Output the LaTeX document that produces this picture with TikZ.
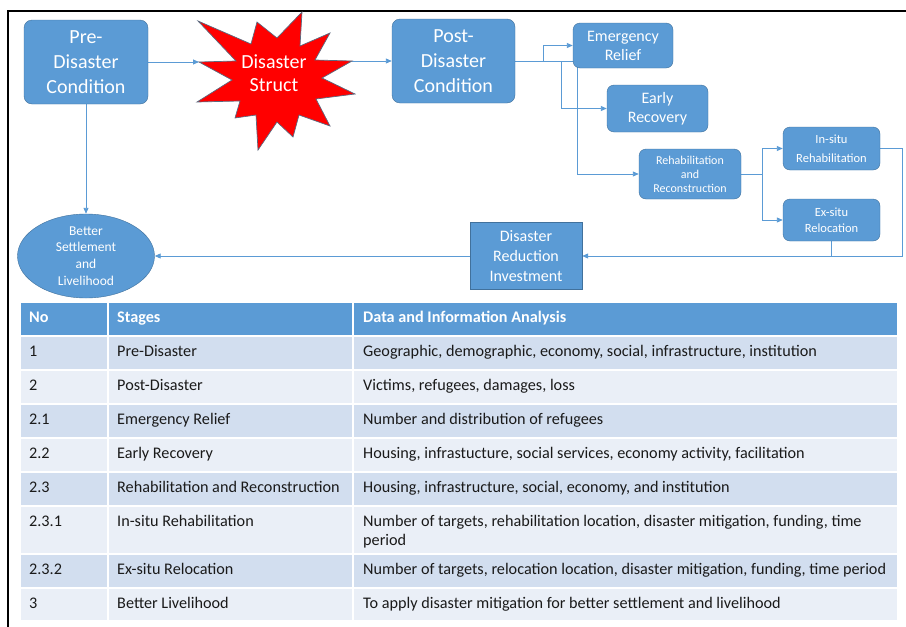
\documentclass[tikz,border=0pt]{standalone}
\usepackage{fontspec}
\setmainfont{Carlito}
\usetikzlibrary{arrows.meta,shapes.geometric,backgrounds}
\definecolor{boxfill}{HTML}{5B9BD5}
\definecolor{boxline}{HTML}{41719C}
\definecolor{linkblue}{HTML}{5B9BD5}
\definecolor{starline}{HTML}{5A6A80}
\definecolor{rowdark}{HTML}{D2DEEF}
\definecolor{rowlight}{HTML}{EAEFF7}
\definecolor{tabtext}{HTML}{1A1A1A}
\begin{document}
\begin{tikzpicture}[x=1pt, y=-1pt,
  box/.style={draw=boxline, fill=boxfill, rounded corners=8pt, text=white, align=center, inner sep=0pt},
  flow/.style={draw=linkblue, line width=0.9pt, -{Triangle[length=6pt,width=5pt]}},
  link/.style={draw=linkblue, line width=0.9pt},
  cell/.style={anchor=base west, inner sep=0pt, text=tabtext, align=left, font=\fontsize{16.2}{19}\selectfont},
  head/.style={anchor=base west, inner sep=0pt, text=white, font=\fontsize{16.2}{19}\selectfont\bfseries}]
  \useasboundingbox (0,0) rectangle (906,627);
  \draw[line width=2pt] (8,627) -- (8,11) -- (906,11);

  % flow chart
  \node (pre) at (86, 62) [box, minimum width=124pt, minimum height=84pt, font=\fontsize{20}{25}\selectfont] {Pre-\\Disaster\\Condition};
  \draw[fill=red, draw=starline, line width=0.7pt] (302,12) -- (300,46) -- (330,33) -- (315,60) -- (352,61) -- (322,78)
    -- (355,94) -- (316,99) -- (330,126) -- (299,115) -- (293,137) -- (277,122) -- (258,150) -- (256,115)
    -- (235,118) -- (240,101) -- (197,102) -- (232,80) -- (199,62) -- (236,61) -- (198,21) -- (251,44)
    -- (257,22) -- (277,38) -- cycle;
  \coordinate (starL) at (199, 62);
  \coordinate (starR) at (352, 61);
  \node (star) at (274, 73) [align=center, text=white, inner sep=0pt, font=\fontsize{20}{23}\selectfont] {Disaster\\Struct};
  \node (post) at (453.5, 61) [box, minimum width=123pt, minimum height=84pt, font=\fontsize{20}{25}\selectfont] {Post-\\Disaster\\Condition};
  \node (relief) at (623, 45.5) [box, rounded corners=7pt, minimum width=100pt, minimum height=45pt, font=\fontsize{16}{19}\selectfont] {Emergency\\Relief};
  \node (early) at (657.5, 108.5) [box, rounded corners=7pt, minimum width=101pt, minimum height=47pt, font=\fontsize{16}{19.5}\selectfont] {Early\\Recovery};
  \node (rehab) at (690, 174) [box, rounded corners=7pt, minimum width=102pt, minimum height=50pt, font=\fontsize{12}{14}\selectfont] {Rehabilitation\\and\\Reconstruction};
  \node (insitu) at (831.5, 148.5) [box, rounded corners=7pt, minimum width=97pt, minimum height=43pt, font=\fontsize{12.5}{19}\selectfont] {In-situ\\Rehabilitation};
  \node (exsitu) at (831.5, 220) [box, rounded corners=7pt, minimum width=97pt, minimum height=42pt, font=\fontsize{12.5}{16}\selectfont] {Ex-situ\\Relocation};
  \node (invest) at (526, 256) [box, rounded corners=0pt, minimum width=112pt, minimum height=67pt, font=\fontsize{16}{19.8}\selectfont] {Disaster\\Reduction\\Investment};
  \node (better) at (86, 256) [ellipse, draw=boxline, fill=boxfill, text=white, align=center, inner sep=0pt, minimum width=137pt, minimum height=84pt, font=\fontsize{13.5}{16.7}\selectfont] {Better\\Settlement\\and\\Livelihood};

  \begin{scope}[on background layer]
    \draw[flow] (pre) -- (starL);
    \draw[flow] (starR) -- (post);
    \draw[flow] (post.east) -- (543,61) |- (relief.west);
    \draw[flow] (post.east) -- (561,61) |- (early.west);
    \draw[flow] (post.east) -- (577,61) |- (rehab.west);
    \draw[flow] (rehab.east) -- (762,174) |- (insitu.west);
    \draw[flow] (rehab.east) -- (762,174) |- (exsitu.west);
    \draw[flow] (insitu.east) -- (902,148.5) |- (invest.east);
    \draw[link] (exsitu.south) -- (exsitu.south |- invest.east);
    \draw[flow] (invest) -- (better);
    \draw[flow] (pre) -- (better);
  \end{scope}

  % table
  \fill[boxfill] (21,303) rectangle (897,335);
  \fill[rowdark] (21,337) rectangle (897,369);
  \fill[rowlight] (21,371) rectangle (897,403);
  \fill[rowdark] (21,405) rectangle (897,437);
  \fill[rowlight] (21,439) rectangle (897,471);
  \fill[rowdark] (21,473) rectangle (897,505);
  \fill[rowlight] (21,507) rectangle (897,553);
  \fill[rowdark] (21,555) rectangle (897,587);
  \fill[rowlight] (21,589) rectangle (897,620);
  \draw[white, line width=2pt] (108,303) -- (108,620);
  \draw[white, line width=2pt] (353,303) -- (353,620);

  \node (h1) at (29, 322) [head] {No};
  \node (h2) at (117, 322) [head] {Stages};
  \node (h3) at (363, 322) [head] {Data and Information Analysis};
  \node (r1a) at (29, 356) [cell] {1};
  \node (r1b) at (117, 356) [cell] {Pre-Disaster};
  \node (r1c) at (363, 356) [cell] {Geographic, demographic, economy, social, infrastructure, institution};
  \node (r2a) at (29, 390) [cell] {2};
  \node (r2b) at (117, 390) [cell] {Post-Disaster};
  \node (r2c) at (363, 390) [cell] {Victims, refugees, damages, loss};
  \node (r3a) at (29, 424) [cell] {2.1};
  \node (r3b) at (117, 424) [cell] {Emergency Relief};
  \node (r3c) at (363, 424) [cell] {Number and distribution of refugees};
  \node (r4a) at (29, 458) [cell] {2.2};
  \node (r4b) at (117, 458) [cell] {Early Recovery};
  \node (r4c) at (363, 458) [cell] {Housing, infrastucture, social services, economy activity, facilitation};
  \node (r5a) at (29, 492) [cell] {2.3};
  \node (r5b) at (117, 492) [cell] {Rehabilitation and Reconstruction};
  \node (r5c) at (363, 492) [cell] {Housing, infrastructure, social, economy, and institution};
  \node (r6a) at (29, 526) [cell] {2.3.1};
  \node (r6b) at (117, 526) [cell] {In-situ Rehabilitation};
  \node (r6c) at (363, 545) [cell] {Number of targets, rehabilitation location, disaster mitigation, funding, time\\period};
  \node (r7a) at (29, 574) [cell] {2.3.2};
  \node (r7b) at (117, 574) [cell] {Ex-situ Relocation};
  \node (r7c) at (363, 574) [cell] {Number of targets, relocation location, disaster mitigation, funding, time period};
  \node (r8a) at (29, 608) [cell] {3};
  \node (r8b) at (117, 608) [cell] {Better Livelihood};
  \node (r8c) at (363, 608) [cell] {To apply disaster mitigation for better settlement and livelihood};
\end{tikzpicture}
\end{document}
